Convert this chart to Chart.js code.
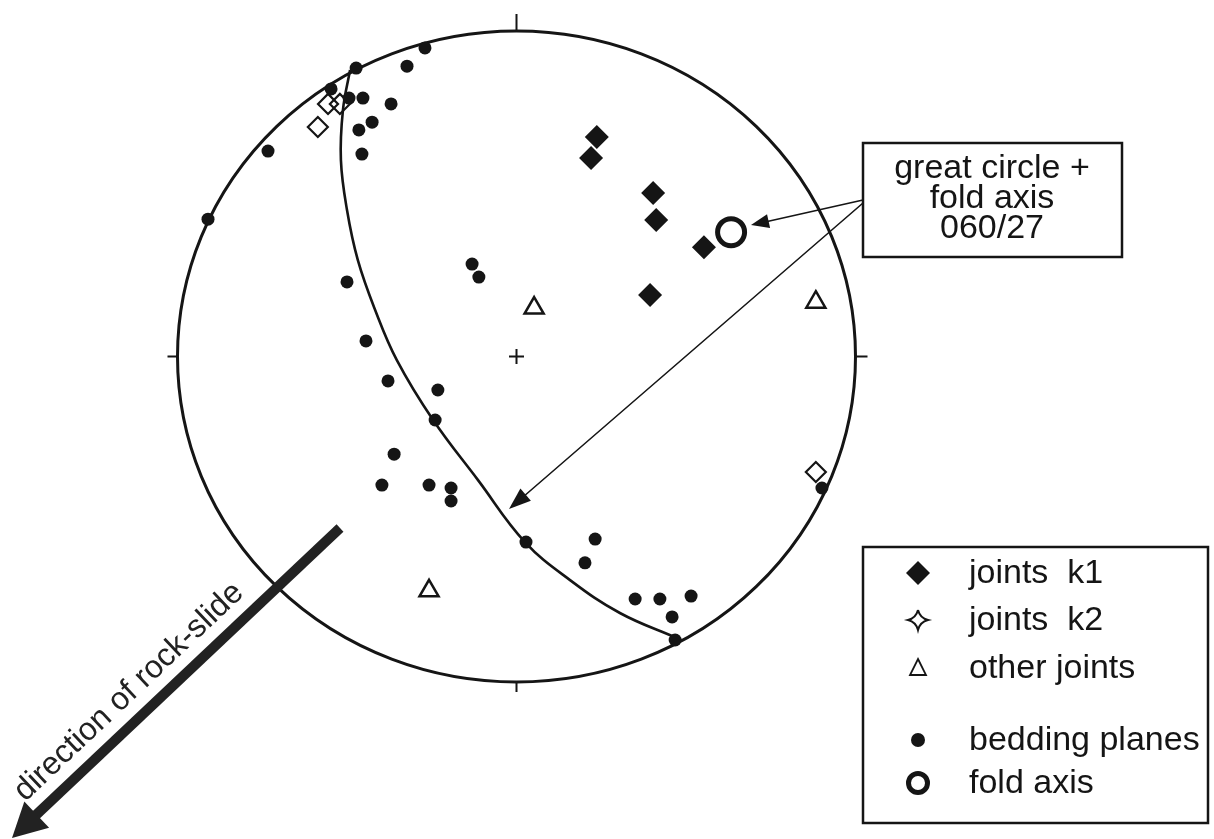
<!DOCTYPE html>
<html>
<head>
<meta charset="utf-8">
<script src="https://cdn.jsdelivr.net/npm/chart.js@4.4.1/dist/chart.umd.min.js"></script>
<style>
  html, body { margin: 0; padding: 0; background: #fff; }
  #wrap { width: 1214px; height: 839px; }
</style>
</head>
<body>
<div id="wrap"><canvas id="myChart" width="1214" height="839"></canvas></div>
<script>
// stereonet coords, primitive circle radius = 1
const greatCircle = [
  [-0.491, 0.880], [-0.512, 0.757], [-0.518, 0.604], [-0.500, 0.450],
  [-0.468, 0.296], [-0.417, 0.143], [-0.353, -0.011],
  [-0.246, -0.195], [-0.114, -0.379], [0.025, -0.570], [0.158, -0.687],
  [0.305, -0.788], [0.473, -0.865]
]
const bedding = [
  [-0.270, 0.948], [-0.323, 0.892], [-0.473, 0.886], [-0.547, 0.822],
  [-0.494, 0.794], [-0.453, 0.794], [-0.370, 0.776], [-0.426, 0.720],
  [-0.465, 0.696], [-0.456, 0.622], [-0.733, 0.631], [-0.910, 0.422],
  [-0.131, 0.284], [-0.111, 0.244], [-0.500, 0.229], [-0.444, 0.048],
  [-0.379, -0.075], [-0.232, -0.103], [-0.240, -0.195], [-0.361, -0.300],
  [-0.397, -0.395], [-0.258, -0.395], [-0.193, -0.404], [-0.193, -0.444],
  [0.028, -0.570], [0.232, -0.561], [0.202, -0.634], [0.350, -0.745],
  [0.423, -0.745], [0.515, -0.736], [0.459, -0.800], [0.468, -0.871],
  [0.901, -0.404]
]
const jointsK1 = [
  [0.237, 0.674], [0.220, 0.610], [0.403, 0.502],
  [0.412, 0.419], [0.553, 0.336], [0.394, 0.189]
]
const jointsK2 = [[-0.556, 0.776], [-0.521, 0.776], [-0.586, 0.705], [0.883, -0.355]]
const otherJoints = [[0.052, 0.149], [0.883, 0.167], [-0.258, -0.720]]
const foldAxis = [[0.633, 0.382]]
const centre = [[0, 0]]

const legendLabels = ['joints  k1', 'joints  k2', 'other joints', 'bedding planes', 'fold axis']
const boxLabel = ['great circle +', 'fold axis', '060/27']
const slideLabel = 'direction of rock-slide'

const ink = '#151515'
const font = '34px "Liberation Sans", Arial, sans-serif'

const pts = arr => arr.map(p => ({ x: p[0], y: p[1] }))

function arrowHead(ctx, x1, y1, x2, y2, len, half) {
  let a = Math.atan2(y2 - y1, x2 - x1)
  ctx.beginPath()
  ctx.moveTo(x2, y2)
  ctx.lineTo(x2 - len * Math.cos(a) + half * Math.sin(a), y2 - len * Math.sin(a) - half * Math.cos(a))
  ctx.lineTo(x2 - len * Math.cos(a) - half * Math.sin(a), y2 - len * Math.sin(a) + half * Math.cos(a))
  ctx.closePath()
  ctx.fill()
}

const netPlugin = {
  id: 'net',
  beforeDatasetsDraw(chart) {
    const ctx = chart.ctx
    const sx = chart.scales.x, sy = chart.scales.y
    let cx = sx.getPixelForValue(0), cy = sy.getPixelForValue(0)
    let rx = sx.getPixelForValue(1) - cx, ry = cy - sy.getPixelForValue(1)
    ctx.save()
    ctx.strokeStyle = ink
    ctx.lineWidth = 3
    ctx.beginPath()
    ctx.ellipse(cx, cy, rx, ry, 0, 0, Math.PI * 2)
    ctx.stroke()
    ctx.lineWidth = 2
    ctx.beginPath()
    ctx.moveTo(cx, cy - ry); ctx.lineTo(cx, cy - ry - 17)
    ctx.moveTo(cx, cy + ry); ctx.lineTo(cx, cy + ry + 10)
    ctx.moveTo(cx - rx, cy); ctx.lineTo(cx - rx - 10, cy)
    ctx.moveTo(cx + rx, cy); ctx.lineTo(cx + rx + 12, cy)
    ctx.stroke()
    ctx.restore()
  },
  afterDatasetsDraw(chart) {
    const ctx = chart.ctx
    ctx.save()
    ctx.strokeStyle = ink
    ctx.fillStyle = ink
    ctx.font = font

    // annotation box
    ctx.lineWidth = 2.5
    ctx.strokeRect(863, 143, 259, 114)
    ctx.textAlign = 'center'
    ctx.textBaseline = 'middle'
    boxLabel.forEach((t, i) => ctx.fillText(t, 992, 169 + i * 30))

    // arrows from the box
    ctx.lineWidth = 1.6
    ctx.beginPath()
    ctx.moveTo(863, 200); ctx.lineTo(765, 222)
    ctx.moveTo(863, 203); ctx.lineTo(523, 497)
    ctx.stroke()
    arrowHead(ctx, 863, 200, 751, 225, 18, 7)
    arrowHead(ctx, 863, 203, 509, 509, 22, 8)

    // rock-slide arrow
    ctx.strokeStyle = '#222'
    ctx.fillStyle = '#222'
    ctx.lineWidth = 10
    ctx.beginPath()
    ctx.moveTo(340, 528); ctx.lineTo(36, 815)
    ctx.stroke()
    arrowHead(ctx, 340, 528, 12, 838, 34, 18)
    ctx.save()
    ctx.font = '32px "Liberation Sans", Arial, sans-serif'
    ctx.translate(129, 692)
    ctx.rotate(Math.atan2(-310, 328))
    ctx.fillText(slideLabel, 0, 0)
    ctx.restore()

    // legend
    ctx.strokeStyle = ink
    ctx.fillStyle = ink
    ctx.lineWidth = 2.5
    ctx.strokeRect(863, 547, 345, 276)
    let rows = [573, 620, 668, 740, 783]
    let lx = 918
    ctx.textAlign = 'left'
    legendLabels.forEach((t, i) => ctx.fillText(t, 969, rows[i] + 1))

    ctx.beginPath()
    ctx.moveTo(lx - 12, rows[0]); ctx.lineTo(lx, rows[0] - 12)
    ctx.lineTo(lx + 12, rows[0]); ctx.lineTo(lx, rows[0] + 12)
    ctx.closePath(); ctx.fill()

    ctx.lineWidth = 2
    let y2 = rows[1], r = 10
    ctx.beginPath()
    ctx.moveTo(lx, y2 - r)
    ctx.quadraticCurveTo(lx + 2, y2 - 2, lx + r, y2)
    ctx.quadraticCurveTo(lx + 2, y2 + 2, lx, y2 + r)
    ctx.quadraticCurveTo(lx - 2, y2 + 2, lx - r, y2)
    ctx.quadraticCurveTo(lx - 2, y2 - 2, lx, y2 - r)
    ctx.stroke()

    ctx.lineWidth = 1.8
    let y3 = rows[2]
    ctx.beginPath()
    ctx.moveTo(lx, y3 - 9); ctx.lineTo(lx + 8, y3 + 7); ctx.lineTo(lx - 8, y3 + 7)
    ctx.closePath(); ctx.stroke()

    ctx.beginPath()
    ctx.arc(lx, rows[3], 7, 0, Math.PI * 2)
    ctx.fill()

    ctx.lineWidth = 5
    ctx.beginPath()
    ctx.arc(lx, rows[4], 9.5, 0, Math.PI * 2)
    ctx.stroke()
    ctx.restore()
  }
}

let firstChart = document.getElementById('myChart').getContext('2d')

let netChart = new Chart(firstChart, {
  type: 'scatter',
  data: {
    datasets: [
      {
        label: 'fold axis',
        data: pts(foldAxis),
        pointStyle: 'circle',
        pointRadius: 13.5,
        borderWidth: 5,
        borderColor: ink,
        backgroundColor: '#fff'
      },
      {
        label: 'joints k1',
        data: pts(jointsK1),
        pointStyle: 'rectRot',
        pointRadius: 12,
        borderWidth: 0,
        backgroundColor: ink
      },
      {
        label: 'bedding planes',
        data: pts(bedding),
        pointStyle: 'circle',
        pointRadius: 6.5,
        borderWidth: 0,
        backgroundColor: ink
      },
      {
        label: 'joints k2',
        data: pts(jointsK2),
        pointStyle: 'rectRot',
        pointRadius: 10,
        borderWidth: 2.2,
        borderColor: ink,
        backgroundColor: 'rgba(0,0,0,0)'
      },
      {
        label: 'other joints',
        data: pts(otherJoints),
        pointStyle: 'triangle',
        pointRadius: 11,
        borderWidth: 2.5,
        borderColor: ink,
        backgroundColor: 'rgba(0,0,0,0)'
      },
      {
        label: 'centre',
        data: pts(centre),
        pointStyle: 'cross',
        pointRadius: 7.5,
        borderWidth: 2,
        borderColor: ink
      },
      {
        label: 'great circle',
        data: pts(greatCircle),
        showLine: true,
        tension: 0.4,
        pointRadius: 0,
        borderWidth: 2.6,
        borderColor: ink,
        fill: false
      }
    ]
  },
  options: {
    responsive: false,
    animation: false,
    devicePixelRatio: 1,
    events: [],
    layout: { padding: 0, autoPadding: false },
    scales: {
      x: { type: 'linear', display: false, min: -516.5 / 339, max: 697.5 / 339 },
      y: { type: 'linear', display: false, min: -482.5 / 325.5, max: 356.5 / 325.5 }
    },
    plugins: {
      legend: { display: false },
      tooltip: { enabled: false }
    }
  },
  plugins: [netPlugin]
})
</script>
</body>
</html>
